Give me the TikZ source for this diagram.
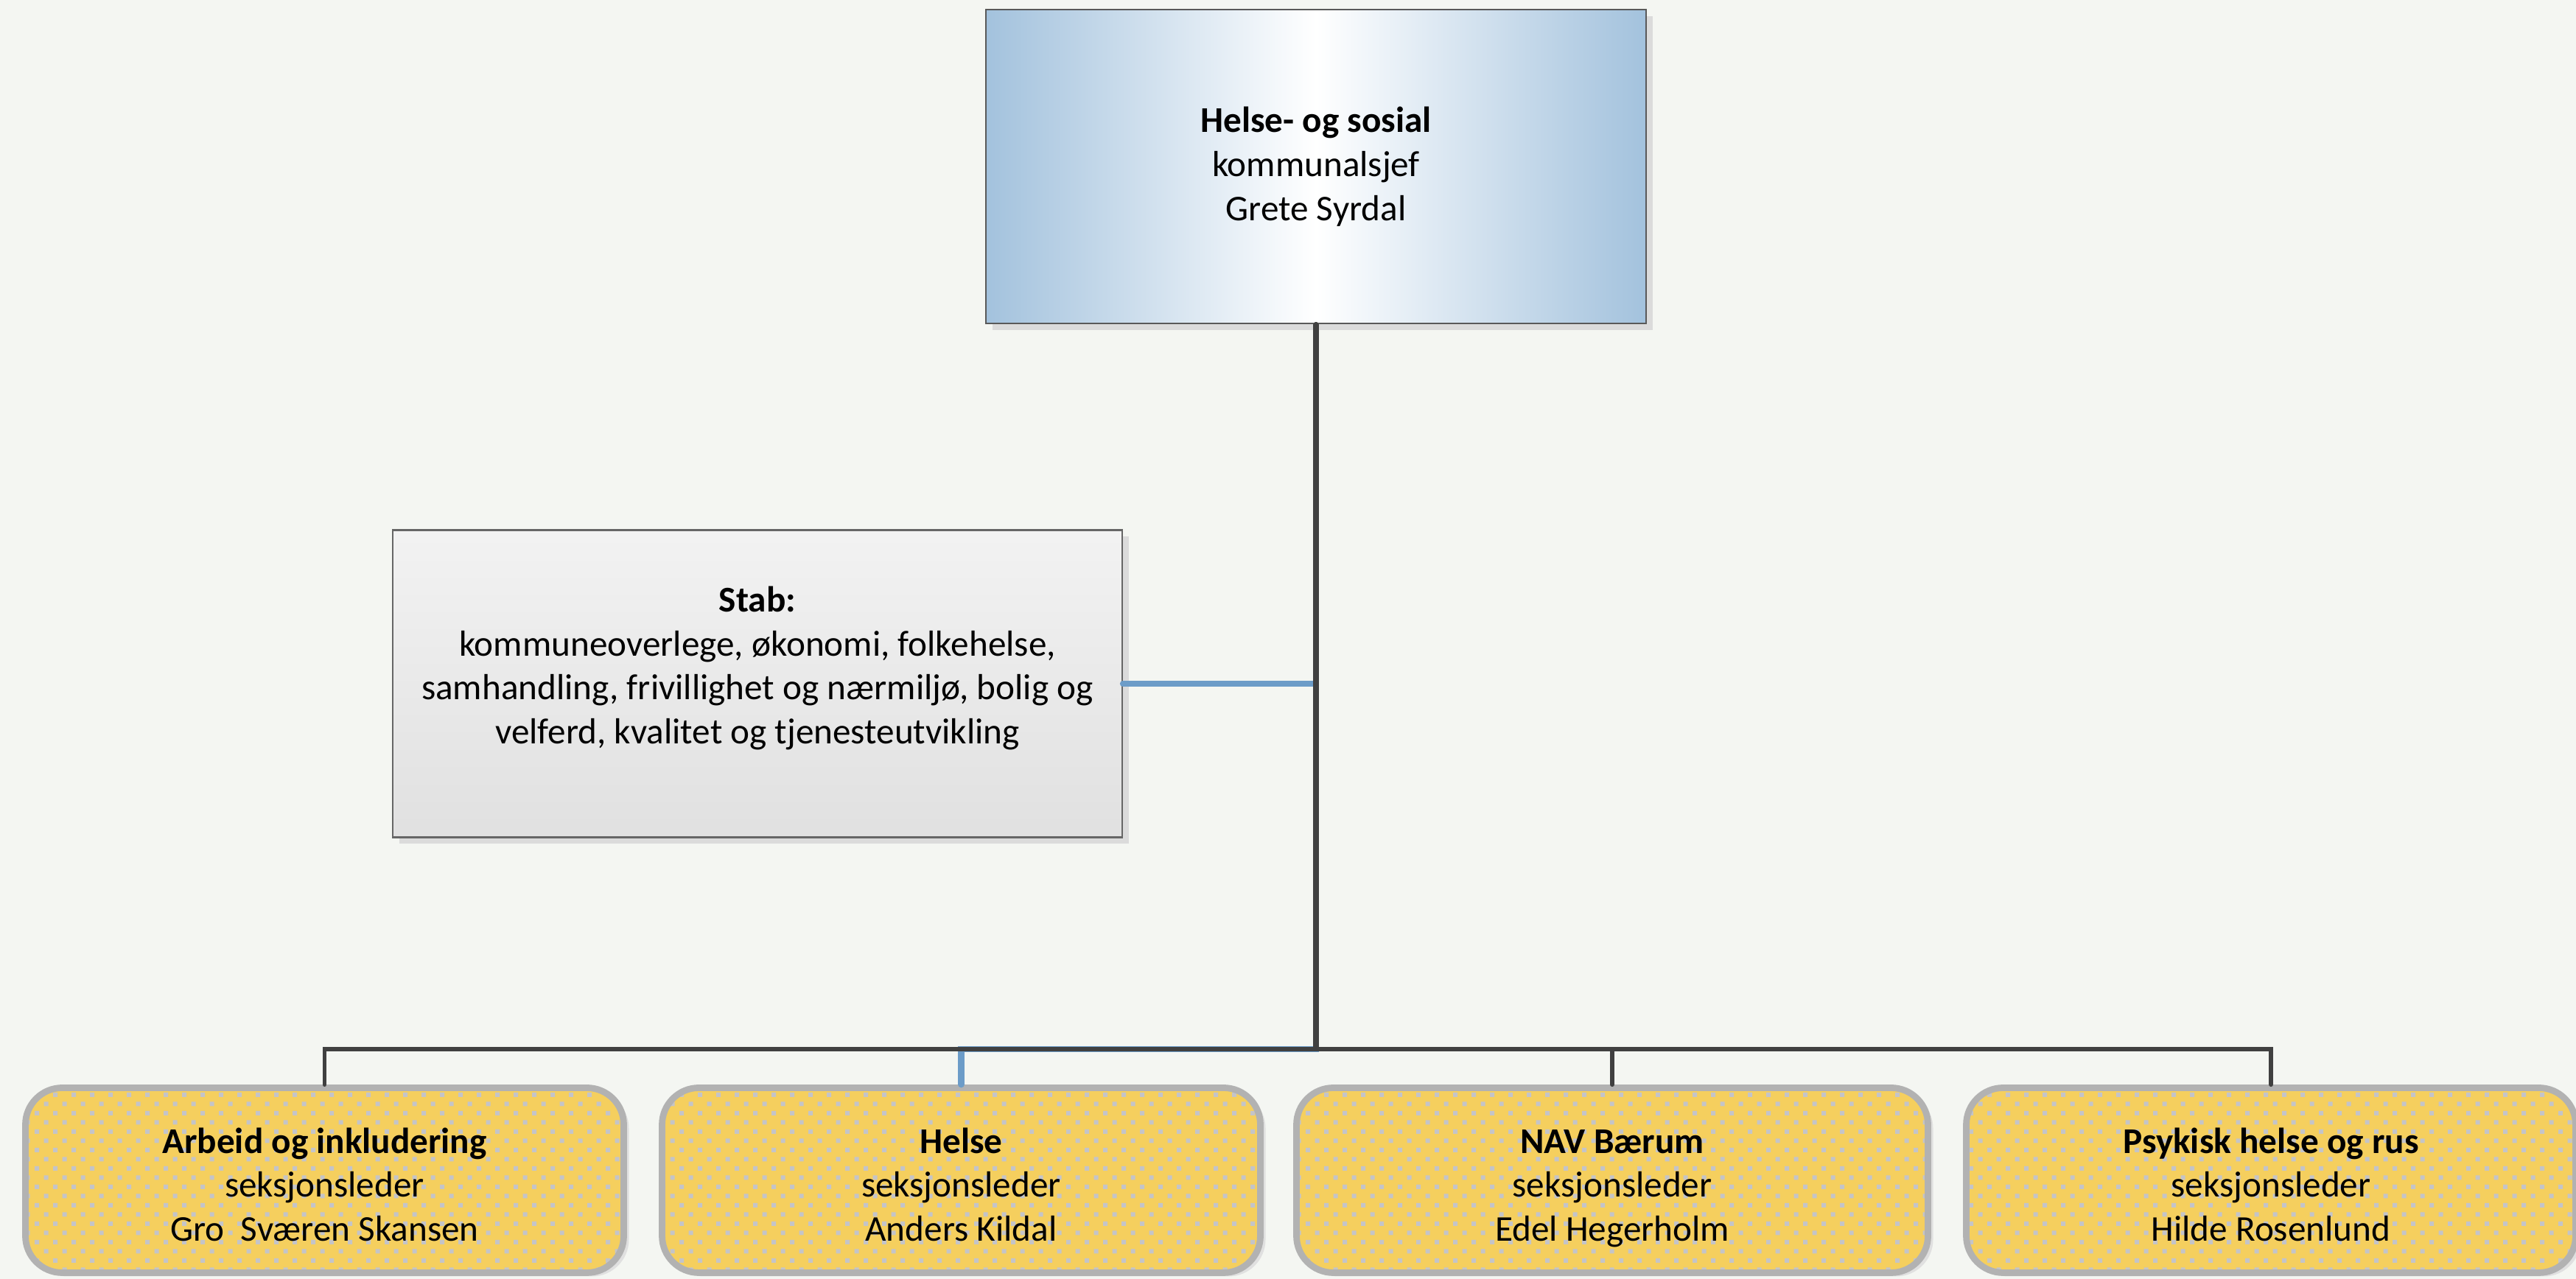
\documentclass[tikz,border=0pt]{standalone}
\usepackage{fontspec}
\setmainfont{Carlito}
\usetikzlibrary{calc}
\usetikzlibrary{trees}
\usetikzlibrary{shadows}
\usetikzlibrary{patterns}

\definecolor{bgcol}{RGB}{244,246,242}
\definecolor{chiefblue}{RGB}{163,194,221}
\definecolor{linegray}{RGB}{64,64,64}
\definecolor{linkblue}{RGB}{108,156,200}
\definecolor{boxyellow}{RGB}{245,207,94}
\definecolor{dotgray}{RGB}{196,196,200}
\definecolor{rimgray}{RGB}{178,178,178}

\newcommand{\sectitle}[1]{\rule{0pt}{18pt}\textbf{#1}}

\pgfdeclarepatternformonly{sectiondots}{\pgfqpoint{-0.3mm}{-0.3mm}}{\pgfqpoint{2.2mm}{2.2mm}}{\pgfqpoint{2.5mm}{2.5mm}}{
  \pgfpathrectangle{\pgfqpoint{-0.3mm}{-0.3mm}}{\pgfqpoint{0.6mm}{0.6mm}}
  \pgfpathrectangle{\pgfqpoint{0.95mm}{0.95mm}}{\pgfqpoint{0.6mm}{0.6mm}}
  \pgfusepath{fill}
}

\tikzset{
  orgtext/.style={align=center, font=\fontsize{14}{17}\selectfont},
  chief/.style={orgtext, draw=black!65, line width=0.6pt,
    left color=chiefblue, right color=chiefblue, middle color=white,
    minimum width=8.96cm, minimum height=4.26cm,
    drop shadow={shadow xshift=0.09cm, shadow yshift=-0.09cm, fill=black!14, opacity=1}},
  staff/.style={orgtext, draw=black!60, line width=0.6pt,
    top color=black!5, bottom color=black!12,
    minimum width=9.9cm, minimum height=4.17cm,
    execute at end node={\rule[-14.4pt]{0pt}{0pt}},
    drop shadow={shadow xshift=0.09cm, shadow yshift=-0.09cm, fill=black!14, opacity=1}},
  section/.style={orgtext, draw=rimgray, line width=2.5pt, rounded corners=0.5cm,
    drop shadow={shadow xshift=0.07cm, shadow yshift=-0.05cm, fill=black!12, opacity=1},
    preaction={fill=boxyellow}, pattern=sectiondots, pattern color=dotgray,
    minimum height=2.51cm,
    execute at end node={\rule[-5pt]{0pt}{0pt}}},
  orgline/.style={draw=linegray, line width=1.7pt, line cap=round},
  trunkline/.style={draw=linegray, line width=2.1pt},
  linkline/.style={draw=linkblue, line width=2.4pt, line cap=round}
}

\begin{document}
\begin{tikzpicture}[level distance=13.76cm,
  level 1/.style={sibling distance=8.8cm},
  edge from parent/.style={draw=none}]
  \fill[bgcol] (0,0) rectangle (34.96,17.36);
  \useasboundingbox (0,0) rectangle (34.96,17.36);

  \node[chief] (chief) at (17.86,15.10) {\textbf{Helse- og sosial}\\kommunalsjef\\Grete Syrdal}
    child {node[section, minimum width=8.12cm, xshift=-0.255cm] (arbeid) {\sectitle{Arbeid og inkludering}\\seksjonsleder\\Gro~ Sværen Skansen}}
    child {node[section, minimum width=8.12cm, xshift=-0.415cm] (helse) {\sectitle{Helse}\\seksjonsleder\\Anders Kildal}}
    child {node[section, minimum width=8.57cm, xshift=-0.38cm] (nav) {\sectitle{NAV Bærum}\\seksjonsleder\\Edel Hegerholm}}
    child {node[section, minimum width=8.27cm, xshift=-0.24cm] (psyk) {\sectitle{Psykisk helse og rus}\\seksjonsleder\\Hilde Rosenlund}};

  \node[staff] (stab) at (10.28,8.08) {\textbf{Stab:}\\kommuneoverlege, økonomi, folkehelse,\\samhandling, frivillighet og nærmiljø, bolig og\\velferd, kvalitet og tjenesteutvikling};

  \coordinate (stabjoin) at (stab.east -| chief.south);
  \coordinate (bus) at ($(helse.north)+(0,0.48)$);
  \draw[linkline] (stab.east) -- (stabjoin) |- (bus) -- (helse.north);
  \foreach \sec in {arbeid,nav,psyk}
    \draw[orgline] (chief.south) |- ($(\sec.north)+(0,0.48)$) -- (\sec.north);
  \draw[trunkline] (chief.south) -- (chief.south |- bus);

\end{tikzpicture}
\end{document}
